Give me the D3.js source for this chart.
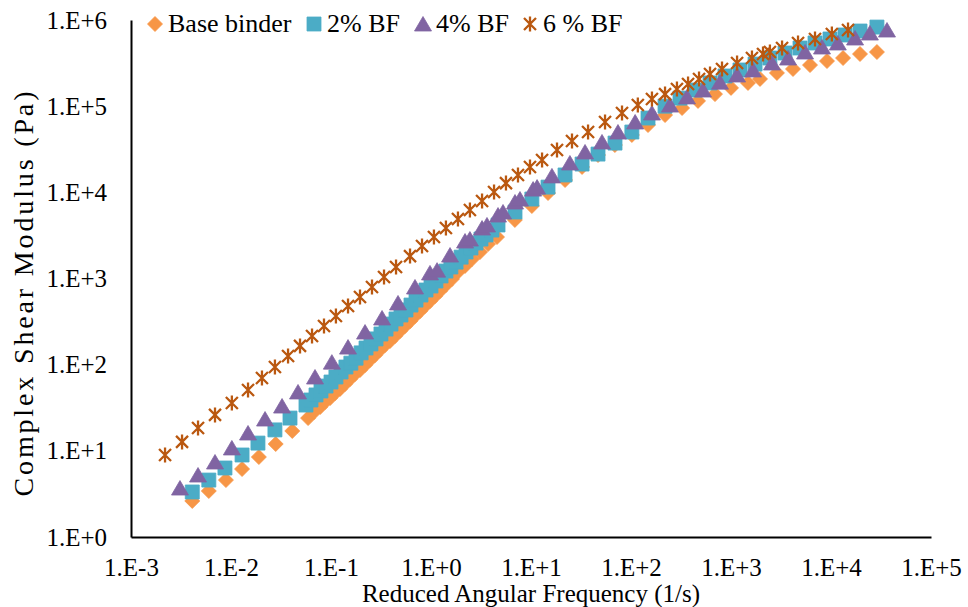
<!DOCTYPE html>
<html>
<head>
<meta charset="utf-8">
<script src="https://cdn.jsdelivr.net/npm/d3@7"></script>
<style>
    body { margin: 0; background: #fff; }
</style>
</head>
<body>
<div id="svgcontainer"></div>
<script>
// tick labels
const xTicks = [1e-3, 1e-2, 1e-1, 1e0, 1e1, 1e2, 1e3, 1e4, 1e5];
const xTickLabels = ["1.E-3", "1.E-2", "1.E-1", "1.E+0", "1.E+1", "1.E+2", "1.E+3", "1.E+4", "1.E+5"];
const yTicks = [1e0, 1e1, 1e2, 1e3, 1e4, 1e5, 1e6];
const yTickLabels = ["1.E+0", "1.E+1", "1.E+2", "1.E+3", "1.E+4", "1.E+5", "1.E+6"];

const seriesNames = ["Base binder", "2% BF", "4% BF", "6 % BF"];

// Base binder
const baseX = [0.0041, 0.0060, 0.0089, 0.0129, 0.019, 0.028, 0.041, 0.059, 0.0676, 0.078, 0.0871, 0.098, 0.110, 0.123, 0.138, 0.155, 0.174, 0.195, 0.219, 0.245, 0.275, 0.309, 0.347, 0.389, 0.437, 0.49, 0.550, 0.62, 0.692, 0.78, 0.871, 0.98, 1.10, 1.23, 1.41, 1.62, 1.86, 2.19, 2.57, 3.09, 3.72, 4.57, 6.9, 10.2, 14.8, 21.9, 32.4, 46.8, 69, 102, 148, 219, 324, 468, 692, 1000, 1479, 1950, 2880, 4170, 6170, 9120, 13200, 19500, 28800];
const baseY = [2.62, 3.42, 4.58, 6.15, 8.48, 12.0, 17.0, 24.0, 28.2, 32.3, 36.9, 41.0, 46.9, 52.2, 59.7, 68.2, 78.0, 86.7, 99.1, 113, 129, 148, 169, 188, 215, 246, 281, 321, 367, 420, 480, 548, 626, 716, 841, 986, 1190, 1400, 1680, 2030, 2510, 3030, 4780, 6940, 9820, 13900, 19700, 27100, 35400, 46300, 60400, 78900, 95200, 115000, 138000, 163000, 186000, 207000, 243000, 270000, 300000, 334000, 362000, 403000, 425000];

// 2% BF
const bf2X = [0.0041, 0.0060, 0.0087, 0.0129, 0.0186, 0.0275, 0.0389, 0.0562, 0.0631, 0.0708, 0.0794, 0.0891, 0.100, 0.112, 0.126, 0.141, 0.158, 0.178, 0.200, 0.224, 0.251, 0.282, 0.316, 0.355, 0.398, 0.447, 0.501, 0.562, 0.631, 0.708, 0.794, 0.891, 1.00, 1.12, 1.26, 1.41, 1.58, 1.78, 2.00, 2.24, 2.51, 2.82, 3.16, 3.55, 4.07, 4.68, 6.92, 10.2, 14.8, 21.9, 32.4, 46.8, 69.2, 102, 148, 219, 309, 437, 617, 871, 1230, 1740, 2450, 3470, 4900, 6920, 9770, 13800, 19500, 28800];
const bf2Y = [3.33, 4.58, 6.32, 8.95, 12.3, 17.5, 24.0, 34.0, 38.9, 44.5, 49.5, 56.5, 62.9, 71.9, 82.2, 93.9, 104, 119, 137, 156, 174, 199, 227, 259, 296, 339, 377, 431, 492, 562, 643, 735, 818, 935, 1070, 1220, 1360, 1550, 1770, 2030, 2260, 2580, 2870, 3200, 3650, 4180, 5910, 8360, 11500, 15900, 21300, 27800, 37300, 50100, 72800, 100000, 124000, 154000, 186000, 224000, 263000, 308000, 362000, 414000, 473000, 541000, 602000, 670000, 745000, 828000];

// 4% BF
const bf4X = [0.00309, 0.00468, 0.00692, 0.0102, 0.0148, 0.0219, 0.0324, 0.0468, 0.0692, 0.102, 0.148, 0.219, 0.324, 0.468, 0.692, 0.977, 1.15, 1.55, 2.19, 2.45, 3.24, 3.63, 4.68, 5.25, 6.92, 7.76, 10.5, 11.5, 16.2, 24.5, 34.7, 51.3, 74.1, 110, 162, 245, 363, 525, 776, 1150, 1660, 2570, 3720, 5500, 8130, 11700, 17400, 24500, 36300];
const bf4Y = [3.70, 5.24, 7.42, 10.8, 16.1, 23.4, 33.1, 48.2, 71.9, 107, 160, 239, 348, 520, 797, 1160, 1250, 1870, 2720, 2870, 3850, 4180, 5450, 5910, 7720, 8360, 10900, 11500, 15500, 21900, 29400, 38400, 50100, 65500, 83300, 103000, 128000, 154000, 190000, 230000, 263000, 317000, 362000, 425000, 486000, 541000, 618000, 706000, 765000];

// 6 % BF
const bf6X = [0.00219, 0.00324, 0.00468, 0.00692, 0.0102, 0.0148, 0.0204, 0.0275, 0.0372, 0.0490, 0.0646, 0.0851, 0.112, 0.148, 0.195, 0.257, 0.339, 0.447, 0.617, 0.813, 1.07, 1.41, 1.86, 2.45, 3.24, 4.27, 5.62, 7.41, 9.77, 12.9, 18.2, 25.7, 37.2, 55.0, 81.3, 117, 162, 219, 288, 372, 479, 617, 813, 1150, 1620, 2090, 2450, 3240, 4680, 6920, 10200, 14800];
const bf6Y = [8.95, 12.7, 18.4, 26.1, 35.9, 50.8, 70.0, 93.9, 126, 165, 215, 281, 367, 480, 610, 797, 1040, 1360, 1820, 2380, 3030, 3850, 4900, 6230, 7930, 10100, 12800, 15900, 19700, 23700, 31000, 39400, 50100, 65500, 83300, 103000, 121000, 138000, 158000, 181000, 207000, 236000, 270000, 317000, 362000, 403000, 425000, 473000, 541000, 602000, 687000, 765000];

const width = 968, height = 607;
const margin = {left: 131, right: 37, top: 20, bottom: 70};
const font = "'Liberation Serif', 'Times New Roman', serif";

let svg = d3.select("#svgcontainer")
    .append("svg")
    .attr("width", width)
    .attr("height", height);

let x = d3.scaleLog()
    .domain([1e-3, 1e5])
    .range([margin.left, width - margin.right]);
let y = d3.scaleLog()
    .domain([1, 1e6])
    .range([height - margin.bottom, margin.top]);

// marker shapes, centred on 0,0
const diamond = "M0,-7.5L7.5,0L0,7.5L-7.5,0Z";
const square = "M-7,-7H7V7H-7Z";
const triangle = "M0,-7.5L8.5,7L-8.5,7Z";
const star = "M-6,-6L6,6M-6,6L6,-6M0,-7.5L0,7.5";

const series = [
    {name: seriesNames[0], xs: baseX, ys: baseY, path: diamond, color: "#F79646", line: false},
    {name: seriesNames[1], xs: bf2X, ys: bf2Y, path: square, color: "#4BACC6", line: false},
    {name: seriesNames[2], xs: bf4X, ys: bf4Y, path: triangle, color: "#8064A2", line: false},
    {name: seriesNames[3], xs: bf6X, ys: bf6Y, path: star, color: "#BA5810", line: true}
];

// axes
svg.append("g")
    .attr("transform", `translate(0,${y(1)})`)
    .call(d3.axisBottom(x).tickValues(xTicks).tickFormat((d, i) => xTickLabels[i]).tickSize(0).tickPadding(21));
svg.append("g")
    .attr("transform", `translate(${x(1e-3)},0)`)
    .call(d3.axisLeft(y).tickValues(yTicks).tickFormat((d, i) => yTickLabels[i]).tickSize(0).tickPadding(24));

svg.selectAll(".domain")
    .style("stroke", "#000")
    .style("stroke-width", 2);
svg.selectAll(".tick text")
    .style("font-size", "25px")
    .style("font-family", font)
    .style("fill", "#000");

// points
series.forEach((s) => {
    let pts = s.xs.map((v, i) => [v, s.ys[i]]);
    svg.append("g")
        .selectAll("path")
        .data(pts)
        .enter()
        .append("path")
        .attr("transform", (d) => `translate(${x(d[0])},${y(d[1])})`)
        .attr("d", s.path)
        .style("fill", s.line ? "none" : s.color)
        .style("stroke", s.color)
        .style("stroke-width", s.line ? 2.3 : 0.8);
});

// axis titles
svg.append("text")
    .attr("x", (x(1e-3) + x(1e5)) / 2)
    .attr("y", 602)
    .attr("text-anchor", "middle")
    .style("font-family", font)
    .style("font-size", "25px")
    .text("Reduced Angular Frequency (1/s)");
svg.append("text")
    .attr("transform", "translate(33,294) rotate(-90)")
    .attr("text-anchor", "middle")
    .attr("textLength", 405)
    .attr("lengthAdjust", "spacing")
    .style("font-family", font)
    .style("font-size", "28px")
    .text("Complex Shear Modulus (Pa)");

// legend along the top
const legendX = [155, 314, 423, 530];
series.forEach((s, i) => {
    svg.append("path")
        .attr("transform", `translate(${legendX[i]},24)`)
        .attr("d", s.path)
        .style("fill", s.line ? "none" : s.color)
        .style("stroke", s.color)
        .style("stroke-width", s.line ? 2.3 : 0.8);
    svg.append("text")
        .attr("x", legendX[i] + 13)
        .attr("y", 32)
        .style("font-family", font)
        .style("font-size", "26px")
        .text(s.name);
});
</script>
</body>
</html>
